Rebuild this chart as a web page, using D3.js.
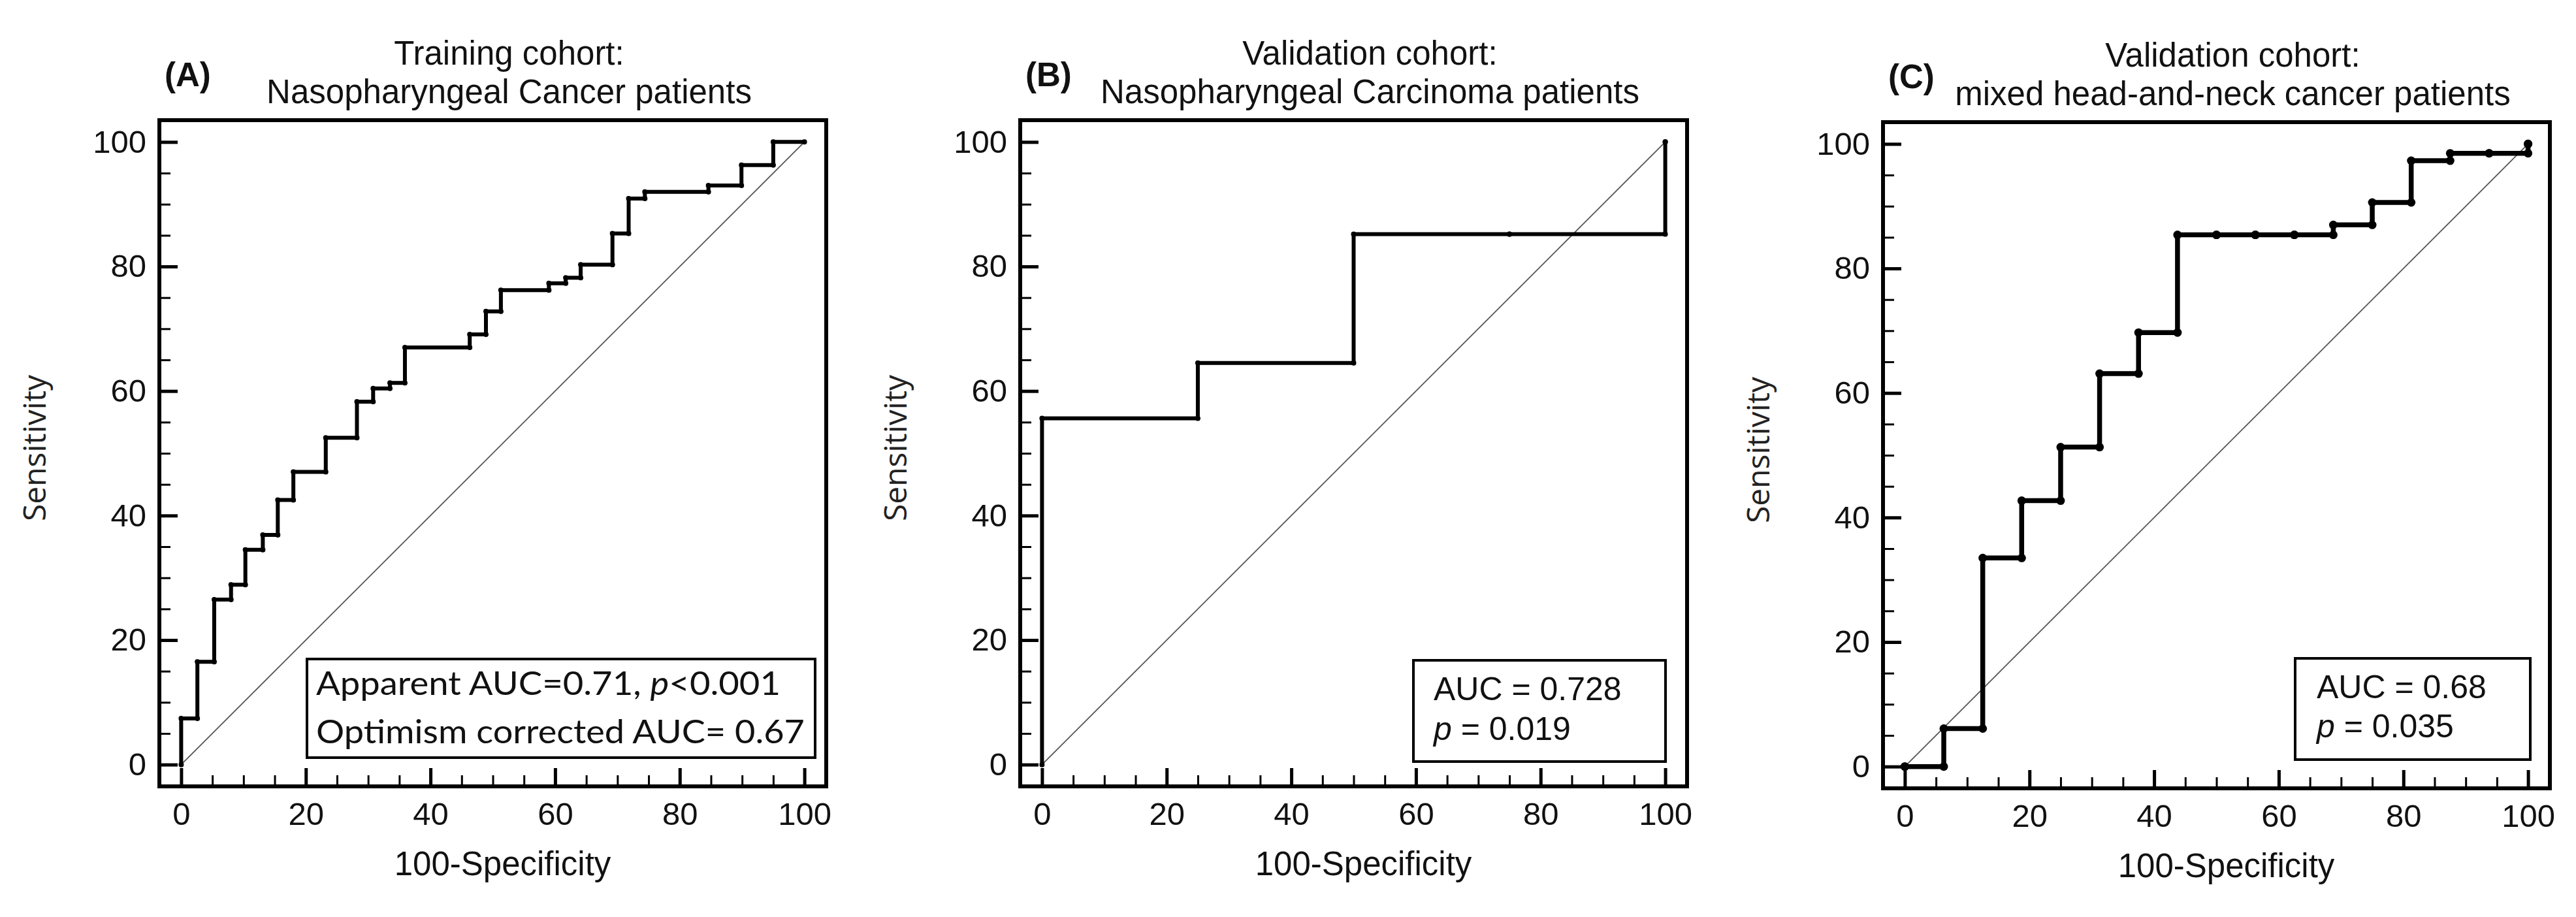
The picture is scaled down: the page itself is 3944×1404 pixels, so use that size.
<!DOCTYPE html>
<html>
<head>
<meta charset="utf-8">
<title>ROC curves</title>
<script src="https://cdn.jsdelivr.net/npm/d3@7"></script>
<style>
  html, body { margin: 0; padding: 0; background: #fff; }
  svg { display: block; }
  .tick text { font-family: "Liberation Sans", Arial, sans-serif; font-size: 49px; fill: #111; }
</style>
</head>
<body>
<svg id="chart"></svg>
<script>
const W = 3944, H = 1404;

const panelLabels = ["(A)", "(B)", "(C)"];
const titleTop = ["Training cohort:", "Validation cohort:", "Validation cohort:"];
const titleBottom = ["Nasopharyngeal Cancer patients", "Nasopharyngeal Carcinoma patients", "mixed head-and-neck cancer patients"];
const xLabel = "100-Specificity";
const yLabel = "Sensitivity";

// ROC steps: each point is (end of a sensitivity level, that level)
const fprA = [0, 2.6, 5.3, 8.0, 10.3, 13.1, 15.5, 18.0, 23.2, 28.2, 30.8, 33.5, 35.9, 46.3, 48.9, 51.3, 59.0, 61.7, 64.1, 69.2, 71.8, 74.4, 84.6, 89.9, 95.0, 100];
const tprA = [0, 7.4, 16.5, 26.5, 28.9, 34.5, 36.9, 42.5, 47.0, 52.5, 58.3, 60.4, 61.3, 67.0, 69.1, 72.8, 76.2, 77.3, 78.2, 80.3, 85.3, 90.9, 92.0, 93.0, 96.3, 100];
const fprB = [0, 25, 50, 75, 100, 100];
const tprB = [0, 55.6, 64.5, 85.2, 85.2, 100];
const fprC = [0, 6.25, 12.5, 18.75, 25, 31.25, 37.5, 43.75, 50, 56.25, 62.5, 68.75, 75, 81.25, 87.5, 93.75, 100, 100];
const tprC = [0, 0, 6.1, 33.5, 42.7, 51.3, 63.1, 69.7, 85.4, 85.4, 85.4, 85.4, 87.0, 90.6, 97.3, 98.5, 98.5, 100];

const majorTicks = [0, 20, 40, 60, 80, 100];
const minorTicks = [5, 10, 15, 25, 30, 35, 45, 50, 55, 65, 70, 75, 85, 90, 95];

// annotation lines, as [text, italic] runs
const aucA = [[["Apparent AUC=0.71, ", false], ["p", true], ["<0.001", false]],
              [["Optimism corrected AUC= 0.67", false]]];
const aucB = [[["AUC = 0.728", false]], [["p", true], [" = 0.019", false]]];
const aucC = [[["AUC = 0.68", false]], [["p", true], [" = 0.035", false]]];

const frameW = 1021, frameH = 1020;

const panels = [
  { left: 244, top: 184, fpr: fprA, tpr: tprA, auc: aucA, lw: 6, r: 4,
    box: { x: 226, y: 825, w: 778, h: 151, tx: 240, ty: [880, 954], font: "Lato, 'Open Sans', sans-serif", size: 51, len: [711, 748] } },
  { left: 1562, top: 184, fpr: fprB, tpr: tprB, auc: aucB, lw: 6, r: 4,
    box: { x: 602, y: 827, w: 386, h: 155, tx: 633, ty: [888, 949], font: "'Liberation Sans', Arial, sans-serif", size: 50, len: null } },
  { left: 2883, top: 187, fpr: fprC, tpr: tprC, auc: aucC, lw: 7.5, r: 6.5,
    box: { x: 631, y: 821, w: 360, h: 155, tx: 664, ty: [882, 942], font: "'Liberation Sans', Arial, sans-serif", size: 50, len: null } }
];

const svg = d3.select("#chart").attr("width", W).attr("height", H);
svg.append("rect").attr("width", W).attr("height", H).attr("fill", "#fff");

const x = d3.scaleLinear().domain([-3.5, 103.5]).range([0, frameW]);
const y = d3.scaleLinear().domain([-3.5, 103.5]).range([frameH, 0]);

panels.forEach(function (p, i) {
  const g = svg.append("g").attr("transform", "translate(" + p.left + "," + p.top + ")");

  // titles
  g.append("text")
    .attr("x", 8).attr("y", -52)
    .attr("font-family", "'Liberation Sans', Arial, sans-serif")
    .attr("font-size", 51).attr("font-weight", "bold").attr("fill", "#111")
    .text(panelLabels[i]);
  g.append("text")
    .attr("x", frameW / 2 + 25).attr("y", -85)
    .attr("text-anchor", "middle")
    .attr("font-family", "'Liberation Sans', Arial, sans-serif")
    .attr("font-size", 51).attr("fill", "#111")
    .text(titleTop[i]);
  g.append("text")
    .attr("x", frameW / 2 + 25).attr("y", -26)
    .attr("text-anchor", "middle")
    .attr("font-family", "'Liberation Sans', Arial, sans-serif")
    .attr("font-size", 51).attr("fill", "#111")
    .text(titleBottom[i]);

  // axes: ticks point inwards from the frame
  const xMajor = g.append("g").attr("transform", "translate(0," + frameH + ")")
    .call(d3.axisBottom(x).tickValues(majorTicks).tickSizeInner(-28).tickSizeOuter(0).tickPadding(24));
  const xMinor = g.append("g").attr("transform", "translate(0," + frameH + ")")
    .call(d3.axisBottom(x).tickValues(minorTicks).tickSizeInner(-17).tickSizeOuter(0).tickFormat(""));
  const yMajor = g.append("g")
    .call(d3.axisLeft(y).tickValues(majorTicks).tickSizeInner(-28).tickSizeOuter(0).tickPadding(20));
  const yMinor = g.append("g")
    .call(d3.axisLeft(y).tickValues(minorTicks).tickSizeInner(-17).tickSizeOuter(0).tickFormat(""));
  [xMajor, xMinor, yMajor, yMinor].forEach(function (a) { a.select(".domain").remove(); });
  [xMajor, yMajor].forEach(function (a) { a.selectAll(".tick line").attr("stroke", "#000").attr("stroke-width", 5); });
  [xMinor, yMinor].forEach(function (a) { a.selectAll(".tick line").attr("stroke", "#000").attr("stroke-width", 3); });

  // frame
  g.append("rect")
    .attr("width", frameW).attr("height", frameH)
    .attr("fill", "none").attr("stroke", "#000").attr("stroke-width", 6);

  // axis labels
  g.append("text")
    .attr("x", frameW / 2 + 15).attr("y", 1156)
    .attr("text-anchor", "middle")
    .attr("font-family", "'Liberation Sans', Arial, sans-serif")
    .attr("font-size", 51).attr("fill", "#111")
    .text(xLabel);
  g.append("text")
    .attr("transform", "translate(-174," + 502 + ") rotate(-90)")
    .attr("text-anchor", "middle")
    .attr("font-family", "'Open Sans', 'DejaVu Sans', sans-serif")
    .attr("font-size", 48).attr("fill", "#222")
    .text(yLabel);

  // chance diagonal
  g.append("line")
    .attr("x1", x(0)).attr("y1", y(0)).attr("x2", x(100)).attr("y2", y(100))
    .attr("stroke", "#555").attr("stroke-width", 1.8);

  // ROC curve
  const pts = p.fpr.map(function (v, k) { return [v, p.tpr[k]]; });
  const line = d3.line().x(function (d) { return x(d[0]); }).y(function (d) { return y(d[1]); }).curve(d3.curveStepBefore);
  g.append("path")
    .datum(pts)
    .attr("d", line)
    .attr("fill", "none").attr("stroke", "#000")
    .attr("stroke-width", p.lw).attr("stroke-linejoin", "miter").attr("stroke-linecap", "square");

  // markers at both corners of each step
  const marks = [];
  pts.forEach(function (d, k) {
    marks.push(d);
    if (k > 0) marks.push([pts[k - 1][0], d[1]]);
  });
  g.selectAll("circle.pt").data(marks).enter().append("circle")
    .attr("class", "pt")
    .attr("cx", function (d) { return x(d[0]); })
    .attr("cy", function (d) { return y(d[1]); })
    .attr("r", p.r).attr("fill", "#000");

  // AUC box
  const b = p.box;
  g.append("rect")
    .attr("x", b.x).attr("y", b.y).attr("width", b.w).attr("height", b.h)
    .attr("fill", "#fff").attr("stroke", "#000").attr("stroke-width", 4);
  p.auc.forEach(function (runs, li) {
    const t = g.append("text")
      .attr("x", b.tx).attr("y", b.ty[li])
      .attr("font-family", b.font).attr("font-size", b.size).attr("fill", "#111");
    runs.forEach(function (r) {
      t.append("tspan").attr("font-style", r[1] ? "italic" : "normal").text(r[0]);
    });
    if (b.len) {
      t.attr("textLength", b.len[li]).attr("lengthAdjust", "spacingAndGlyphs");
    }
  });
});
</script>
</body>
</html>
